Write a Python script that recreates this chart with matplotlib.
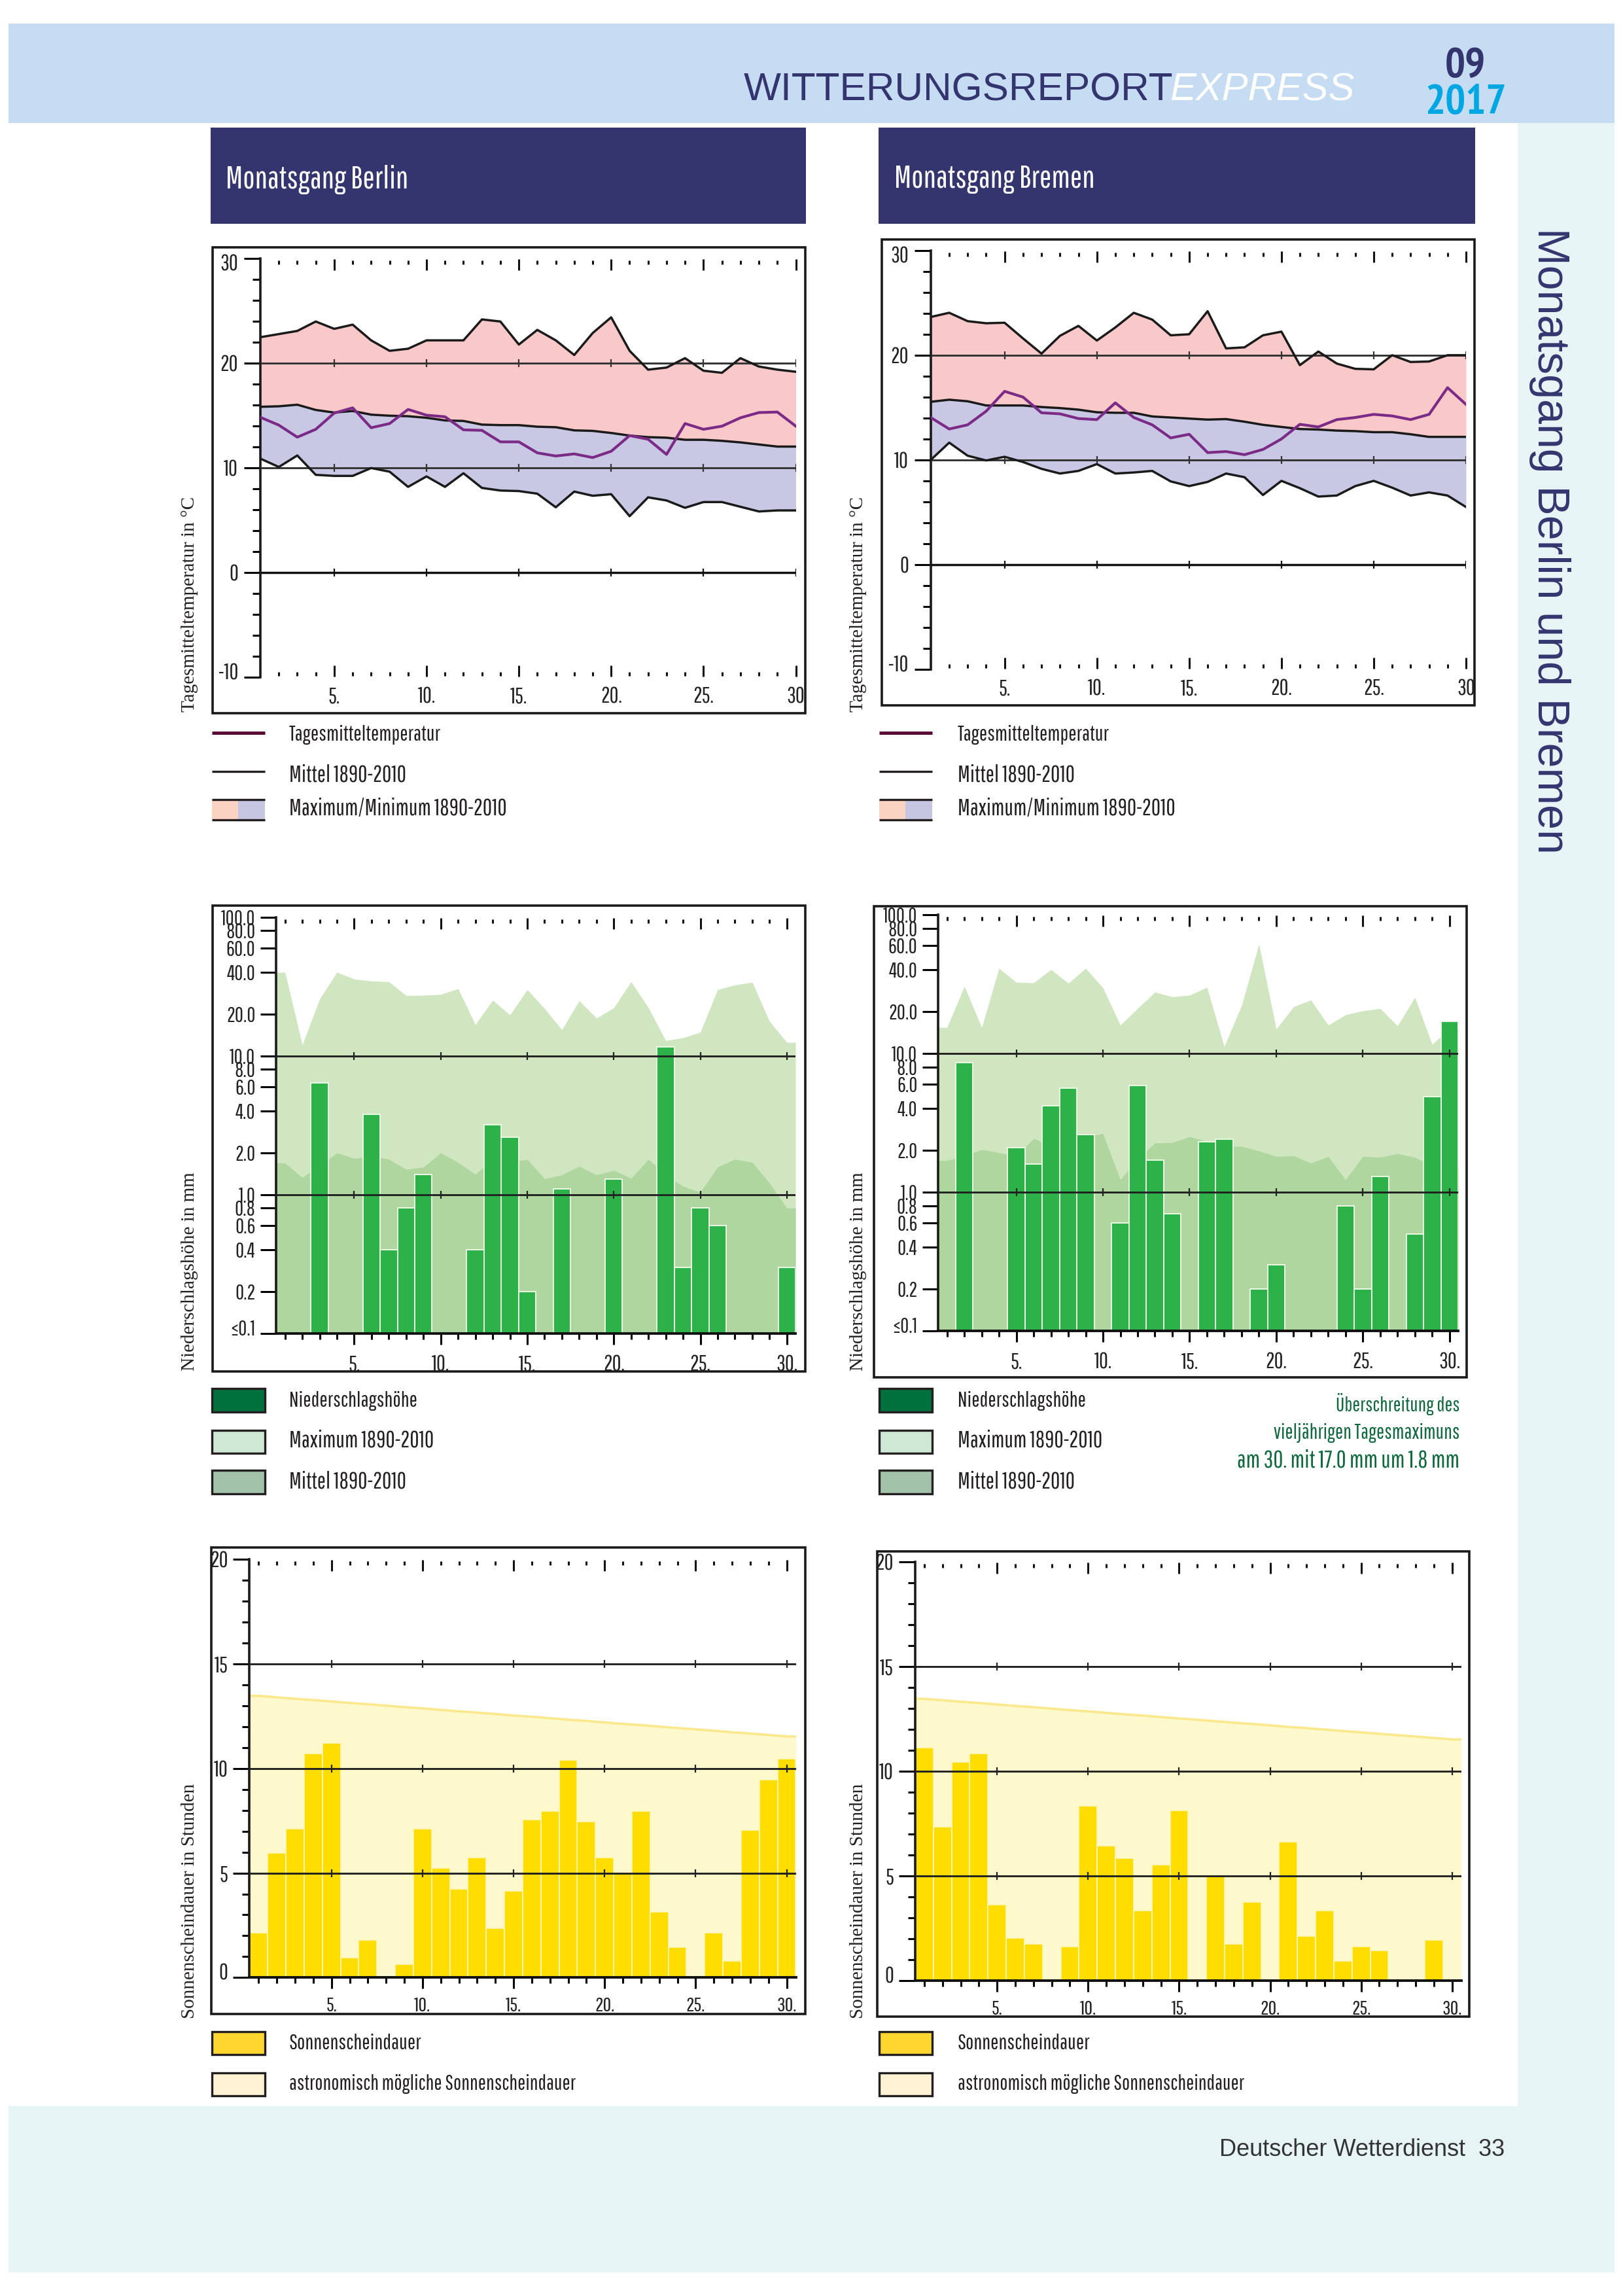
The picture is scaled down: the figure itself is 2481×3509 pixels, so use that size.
import numpy as np
import matplotlib
matplotlib.use("Agg")
import matplotlib.pyplot as plt
from matplotlib.patches import Rectangle
from matplotlib.transforms import ScaledTranslation
from matplotlib.ticker import NullLocator
import logging

logging.getLogger("matplotlib.font_manager").setLevel(logging.ERROR)

# page size in pixels, everything on the page is placed in these
W = 2481
H = 3509

NARROW = ["Pathway Gothic One", "Liberation Sans", "DejaVu Sans"]
BOLDNARROW = ["PT Sans Narrow", "Liberation Sans", "DejaVu Sans"]
SANS = ["Liberation Sans", "DejaVu Sans"]
SERIF = ["Liberation Serif", "DejaVu Serif"]

NAVY = "#34346f"

days = list(range(1, 31))

# Temperatur, Tagesmittel in Grad C
berlinTempMax = [22.5, 22.8, 23.1, 24.0, 23.3, 23.7, 22.2, 21.2, 21.4, 22.2, 22.2, 22.2, 24.2, 24.0, 21.8, 23.2, 22.2, 20.8, 22.9, 24.4, 21.2, 19.4, 19.6, 20.5, 19.3, 19.1, 20.5, 19.7, 19.4, 19.2]
berlinTempMean = [15.85, 15.9, 16.05, 15.55, 15.3, 15.45, 15.1, 15.0, 14.95, 14.8, 14.55, 14.5, 14.15, 14.1, 14.1, 13.95, 13.9, 13.6, 13.55, 13.35, 13.1, 12.95, 12.9, 12.7, 12.7, 12.6, 12.45, 12.25, 12.05, 12.05]
berlinTempMin = [10.9, 10.1, 11.2, 9.35, 9.25, 9.25, 10.0, 9.65, 8.2, 9.2, 8.2, 9.5, 8.1, 7.85, 7.8, 7.55, 6.25, 7.75, 7.35, 7.5, 5.4, 7.2, 6.9, 6.2, 6.75, 6.75, 6.3, 5.85, 5.95, 5.95]
berlinTempDay = [14.85, 14.1, 12.95, 13.7, 15.25, 15.75, 13.85, 14.25, 15.6, 15.05, 14.9, 13.65, 13.6, 12.5, 12.5, 11.45, 11.15, 11.35, 11.0, 11.6, 13.1, 12.75, 11.3, 14.25, 13.7, 14.0, 14.8, 15.3, 15.35, 14.0]

bremenTempMax = [23.65, 24.05, 23.25, 23.05, 23.1, 21.6, 20.15, 21.85, 22.8, 21.4, 22.65, 24.05, 23.4, 21.9, 22.0, 24.2, 20.65, 20.75, 21.9, 22.25, 19.05, 20.35, 19.2, 18.7, 18.65, 20.0, 19.35, 19.4, 20.0, 20.0]
bremenTempMean = [15.55, 15.75, 15.6, 15.2, 15.2, 15.2, 15.05, 14.95, 14.8, 14.55, 14.5, 14.5, 14.15, 14.05, 13.95, 13.85, 13.9, 13.65, 13.35, 13.15, 12.95, 12.9, 12.8, 12.75, 12.65, 12.65, 12.45, 12.2, 12.2, 12.2]
bremenTempMin = [10.0, 11.65, 10.4, 9.95, 10.3, 9.8, 9.15, 8.7, 8.95, 9.6, 8.7, 8.8, 8.95, 7.95, 7.5, 7.9, 8.7, 8.35, 6.65, 8.0, 7.3, 6.5, 6.6, 7.5, 8.0, 7.35, 6.6, 6.9, 6.6, 5.5]
bremenTempDay = [14.05, 12.95, 13.35, 14.65, 16.55, 16.0, 14.5, 14.4, 13.95, 13.85, 15.45, 14.05, 13.35, 12.1, 12.45, 10.7, 10.8, 10.5, 11.0, 12.0, 13.4, 13.15, 13.85, 14.05, 14.35, 14.2, 13.85, 14.35, 16.9, 15.3]

# Niederschlag in mm, 0 heisst kein Balken
berlinRainMax = [40, 12, 25.6, 40, 35.7, 34.6, 34.2, 27.2, 27.3, 27.7, 30.5, 16.8, 25.2, 19.7, 30, 21.9, 15.4, 25, 18.7, 22.2, 34.2, 22.2, 12.9, 13.5, 14.8, 30, 32.4, 33.9, 17.7, 12.5]
berlinRainMean = [1.69, 1.33, 1.62, 2.0, 1.82, 1.9, 1.8, 1.52, 1.58, 2.0, 1.71, 1.4, 1.8, 1.71, 1.8, 1.3, 1.39, 1.6, 1.39, 1.5, 1.31, 1.8, 1.39, 1.15, 1.04, 1.58, 1.8, 1.71, 1.21, 0.8]
berlinRain = [0, 0, 6.4, 0, 0, 3.8, 0.4, 0.8, 1.4, 0, 0, 0.4, 3.2, 2.6, 0.2, 0, 1.1, 0, 0, 1.3, 0, 0, 11.6, 0.3, 0.8, 0.6, 0, 0, 0, 0.3]

bremenRainMax = [15.4, 30.5, 15.4, 41.1, 32.6, 32.3, 40.3, 32.1, 41.1, 29.7, 16, 21.1, 27.7, 25.6, 26.3, 30, 11.2, 22.2, 61.3, 15, 21.7, 24.3, 16, 19, 20.3, 21.1, 15.8, 25.4, 11.6, 15.2]
bremenRainMean = [1.69, 1.83, 2.03, 1.93, 1.81, 2.44, 2.14, 2.14, 2.51, 2.64, 1.23, 1.74, 2.26, 2.28, 2.51, 2.32, 2.14, 2.14, 1.98, 1.81, 1.83, 1.62, 1.81, 1.23, 1.81, 1.78, 1.9, 1.78, 1.56, 1.5]
bremenRain = [0, 8.6, 0, 0, 2.1, 1.6, 4.2, 5.6, 2.6, 0, 0.6, 5.9, 1.7, 0.7, 0, 2.3, 2.4, 0, 0.2, 0.3, 0, 0, 0, 0.8, 0.2, 1.3, 0, 0.5, 4.9, 17.0]

# Sonnenschein in Stunden
astroSun = [13.47, 13.40, 13.33, 13.27, 13.20, 13.13, 13.07, 13.00, 12.93, 12.87, 12.80, 12.73, 12.67, 12.60, 12.53, 12.47, 12.40, 12.33, 12.27, 12.20, 12.13, 12.07, 12.00, 11.93, 11.87, 11.80, 11.73, 11.67, 11.60, 11.53]
berlinSun = [2.15, 5.95, 7.1, 10.7, 11.2, 0.95, 1.8, 0, 0.65, 7.1, 5.25, 4.25, 5.75, 2.35, 4.15, 7.55, 7.95, 10.4, 7.45, 5.75, 5.0, 7.95, 3.15, 1.45, 0, 2.15, 0.8, 7.05, 9.45, 10.45]
bremenSun = [11.15, 7.35, 10.45, 10.85, 3.65, 2.05, 1.75, 0, 1.65, 8.35, 6.45, 5.85, 3.35, 5.55, 8.15, 0, 5.0, 1.75, 3.75, 0, 6.65, 2.15, 3.35, 0.95, 1.65, 1.45, 0, 0, 1.95, 0]

rainTicks = [100, 80, 60, 40, 20, 10, 8, 6, 4, 2, 1, 0.8, 0.6, 0.4, 0.2, 0.1]
rainLabels = ["100.0", "80.0", "60.0", "40.0", "20.0", "10.0", "8.0", "6.0", "4.0", "2.0", "1.0", "0.8", "0.6", "0.4", "0.2", "≤0.1"]

fig = plt.figure(figsize=(W / 100, H / 100), dpi=100, facecolor="white")

# page layer, coordinates are plain pixels from the top left
pg = fig.add_axes([0, 0, 1, 1])
pg.set_xlim(0, W)
pg.set_ylim(H, 0)
pg.axis("off")

TICKSIZE = 24.5
RAINSIZE = 23
SUNXSIZE = 22.5
WORDSIZE = 23.5
YEARSIZE = 25


def px(n):
	return n * 0.72


def box(x0, y0, x1, y1, color, edge="none", lw=0, z=1):
	pg.add_patch(Rectangle((x0, y0), x1 - x0, y1 - y0, facecolor=color, edgecolor=edge, linewidth=lw, zorder=z))


def pageText(x, y, s, size, family=NARROW, color="#231f20", ha="left", va="center", **kw):
	return pg.text(x, y, s, fontsize=size, family=family, color=color, ha=ha, va=va, **kw)


def makeAxes(x0, y0, x1, y1, xlim, ylim, log=False):
	ax = fig.add_axes([x0 / W, 1 - y1 / H, (x1 - x0) / W, (y1 - y0) / H])
	ax.patch.set_visible(False)
	if log:
		ax.set_yscale("log")
	ax.set_xlim(*xlim)
	ax.set_ylim(*ylim)
	for s in ["top", "right", "bottom"]:
		ax.spines[s].set_visible(False)
	ax.spines["left"].set_linewidth(2.6)
	ax.spines["left"].set_color("#1a1a1a")
	return ax


def dayMarks(ax, top=True, bottom=False):
	# kleine Striche oben/unten
	height = ax.get_position().height * H
	xform = ax.get_xaxis_transform()
	for d in days:
		big = d % 5 == 0
		if d == 1 and ax.get_xlim()[0] == 1:
			continue
		if top:
			ax.vlines(d, 1 - (18 if big else 9) / height, 1 - (1 if big else 3) / height, color="#111111", lw=2.2, transform=xform, clip_on=False, zorder=6)
		if bottom:
			ax.vlines(d, (1 if big else 2) / height, (18 if big else 8) / height, color="#111111", lw=2.2, transform=xform, clip_on=False, zorder=6)


def gridMarks(ax, values, color="#333333", lw=2.1):
	height = ax.get_position().height * H
	xform = ax.get_yaxis_transform()
	ax.hlines(values, 0, 1, color=color, lw=lw, transform=xform, zorder=5)
	fives = [d for d in days if d % 5 == 0]
	for v in values:
		yFrac = ax.transAxes.inverted().transform(ax.transData.transform((1, v)))[1]
		ax.vlines(fives, yFrac - 6 / height, yFrac + 6 / height, color=color, lw=1.6, transform=ax.get_xaxis_transform(), zorder=5)


def xLabels(ax, labels, pad, size=TICKSIZE):
	ax.set_xticks([5, 10, 15, 20, 25, 30], labels)
	ax.tick_params(axis="x", which="major", pad=px(pad), labelsize=size)
	for t in ax.get_xticklabels():
		t.set_family(NARROW)
		t.set_color("#222222")


def yFonts(ax):
	for t in ax.get_yticklabels():
		t.set_family(NARROW)
		t.set_color("#222222")


def nudge(label, dy):
	# schiebt eine Achsenbeschriftung um dy Pixel nach oben
	label.set_transform(label.get_transform() + ScaledTranslation(0, dy / 100, fig.dpi_scale_trans))


def tempChart(rect, tmax, tmean, tmin, tday):
	ax = makeAxes(*rect, (1, 30), (-10, 30))
	ax.fill_between(days, tmean, tmax, color="#f9c8c8", lw=0, zorder=1)
	ax.fill_between(days, tmin, tmean, color="#c8c8e4", lw=0, zorder=1)
	gridMarks(ax, [20, 10])
	gridMarks(ax, [0], color="#111111", lw=2.5)
	ax.plot(days, tmax, color="#1a1a1a", lw=2.5, zorder=6)
	ax.plot(days, tmean, color="#1a1a1a", lw=2.5, zorder=6)
	ax.plot(days, tmin, color="#1a1a1a", lw=2.5, zorder=6)
	ax.plot(days, tday, color="#7b2a86", lw=3.0, zorder=7)
	ax.set_yticks([30, 20, 10, 0, -10], ["30", "20", "10", "0", "-10"])
	ax.set_yticks(list(range(-8, 30, 2)), minor=True)
	ax.tick_params(axis="y", which="major", length=px(25), width=2.2, pad=px(9), labelsize=TICKSIZE)
	ax.tick_params(axis="y", which="minor", length=px(12), width=2.2)
	yFonts(ax)
	labs = ax.get_yticklabels()
	nudge(labs[0], -6)
	nudge(labs[-1], 9)
	xLabels(ax, ["5.", "10.", "15.", "20.", "25.", "30"], 14)
	ax.tick_params(axis="x", which="major", length=0)
	dayMarks(ax, top=True, bottom=True)
	return ax


def barAxis(ax):
	ax.spines["bottom"].set_visible(True)
	ax.spines["bottom"].set_linewidth(2.8)
	ax.spines["bottom"].set_color("#111111")
	ax.set_xticks([d for d in days if d % 5 != 0], minor=True)
	ax.tick_params(axis="x", which="minor", length=px(9), width=2.2, direction="out")
	ax.tick_params(axis="x", which="major", length=px(17), width=2.2, direction="out")


def rainChart(rect, rmax, rmean, rain):
	ax = makeAxes(*rect, (0.5, 30.5), (0.1, 100), log=True)
	# die Flaechen laufen bis an die Achsen
	xx = [0.5] + days + [30.5]
	ax.fill_between(xx, 0.1, [rmax[0]] + rmax + [rmax[-1]], color="#cfe6c0", lw=0, zorder=1)
	ax.fill_between(xx, 0.1, [rmean[0]] + rmean + [rmean[-1]], color="#aed69e", lw=0, zorder=1.5)
	dd = [d for d, r in zip(days, rain) if r > 0]
	rr = [r for r in rain if r > 0]
	ax.bar(dd, np.array(rr) - 0.1, bottom=0.1, width=1.0, color="#2db24a", edgecolor="#eef7e6", linewidth=1.4, zorder=2)
	gridMarks(ax, [10, 1], color="#222222")
	ax.minorticks_off()
	ax.set_yticks(rainTicks, rainLabels)
	ax.tick_params(axis="y", which="major", length=px(24), width=2.2, pad=px(8), labelsize=RAINSIZE)
	ax.yaxis.set_minor_locator(NullLocator())
	yFonts(ax)
	nudge(ax.get_yticklabels()[-1], 9)
	xLabels(ax, ["5.", "10.", "15.", "20.", "25.", "30."], 15)
	barAxis(ax)
	dayMarks(ax, top=True)
	return ax


def sunChart(rect, sun):
	ax = makeAxes(*rect, (0.5, 30.5), (0, 20))
	xx = [0.5] + days + [30.5]
	aa = [astroSun[0]] + astroSun + [astroSun[-1]]
	ax.fill_between(xx, 0, aa, color="#fdf9cc", lw=0, zorder=1)
	ax.plot(xx, aa, color="#fbe88c", lw=2.6, zorder=1.5)
	ax.bar(days, sun, width=1.0, color="#ffdd00", edgecolor="#fff6c0", linewidth=1.2, zorder=2)
	gridMarks(ax, [15, 10, 5], color="#222222")
	ax.set_yticks([20, 15, 10, 5, 0], ["20", "15", "10", "5", "0"])
	ax.set_yticks([v for v in range(1, 20) if v % 5 != 0], minor=True)
	ax.tick_params(axis="y", which="major", length=px(25), width=2.2, pad=px(8), labelsize=TICKSIZE)
	ax.tick_params(axis="y", which="minor", length=px(11), width=2.2)
	yFonts(ax)
	nudge(ax.get_yticklabels()[-1], 9)
	xLabels(ax, ["5.", "10.", "15.", "20.", "25.", "30."], 12, size=SUNXSIZE)
	barAxis(ax)
	dayMarks(ax, top=True)
	return ax


def swatch(x0, y0, y1, color):
	box(x0, y0, x0 + 81, y1, color, edge="#231f20", lw=2.4, z=2)


# Hintergrund der Seite
box(13, 36, 2468, 188, "#c6dcf2")
box(2320, 188, 2468, 3219, "#e6f4f5")
box(13, 3219, 2468, 3473, "#e6f4f5")

pageText(1137, 138, "WITTERUNGSREPORT", 43.5, family=SANS, color=NAVY)
pageText(1788, 138, "EXPRESS", 43, family=SANS, color="white", style="italic")
pageText(2240, 102, "09", 47, family=BOLDNARROW, color=NAVY, ha="center", weight="bold")
pageText(2240, 158, "2017", 47, family=BOLDNARROW, color="#00a7e3", ha="center", weight="bold")

pageText(2369, 826, "Monatsgang Berlin und Bremen", 49, family=SANS, color=NAVY, ha="center", rotation=-90)
pageText(1864, 3285, "Deutscher Wetterdienst  33", 26, family=SANS, color="#333333")

# Kopfbalken
box(322, 195, 1232, 342, NAVY)
box(1343, 195, 2255, 342, NAVY)
pageText(345, 274, "Monatsgang Berlin", 35, color="white")
pageText(1367, 274, "Monatsgang Bremen", 35, color="white")

# Rahmen der Diagramme
for x0, y0, x1, y1 in [(324.5, 378, 1230.5, 1090), (1348, 366, 2254, 1078), (324.5, 1384, 1230.5, 2096), (1336, 1385, 2242, 2105), (323, 2365, 1230.5, 3078), (1341, 2371, 2246, 3082)]:
	box(x0, y0, x1, y1, "white", edge="#1a1a1a", lw=2.6, z=1)

tempChart((398, 395.4, 1216.5, 1035.2), berlinTempMax, berlinTempMean, berlinTempMin, berlinTempDay)
tempChart((1422.8, 382.8, 2241, 1023), bremenTempMax, bremenTempMean, bremenTempMin, bremenTempDay)
rainChart((422.4, 1401.5, 1216, 2038), berlinRainMax, berlinRainMean, berlinRain)
rainChart((1434.4, 1398, 2229, 2034), bremenRainMax, bremenRainMean, bremenRain)
sunChart((381.4, 2383, 1216.5, 3022.4), berlinSun)
sunChart((1399, 2387.3, 2233.7, 3027.4), bremenSun)

# Achsentitel, Serifenschrift wie im Original
for xl in [290, 1312]:
	pageText(xl, 923, "Tagesmitteltemperatur in °C", 21, family=SERIF, ha="center", rotation=90)
	pageText(xl, 1943, "Niederschlagshöhe in mm", 21, family=SERIF, ha="center", rotation=90)
	pageText(xl, 2905, "Sonnenscheindauer in Stunden", 21, family=SERIF, ha="center", rotation=90)

# Legenden
for xs, xt in [(324, 442), (1344, 1464)]:
	pg.plot([xs, xs + 81], [1120, 1120], color="#5b0a36", lw=3.6, solid_capstyle="butt", zorder=2)
	pg.plot([xs, xs + 81], [1179, 1179], color="#231f20", lw=2.4, solid_capstyle="butt", zorder=2)
	box(xs, 1222, xs + 40, 1253, "#fbd3c3", z=2)
	box(xs + 40, 1222, xs + 81, 1253, "#c6c6e2", z=2)
	pg.plot([xs, xs + 81], [1222, 1222], color="#231f20", lw=2.4, solid_capstyle="butt", zorder=3)
	pg.plot([xs, xs + 81], [1253, 1253], color="#231f20", lw=2.4, solid_capstyle="butt", zorder=3)
	pageText(xt, 1123, "Tagesmitteltemperatur", WORDSIZE)
	pageText(xt, 1184, "Mittel 1890-2010", YEARSIZE)
	pageText(xt, 1235, "Maximum/Minimum 1890-2010", YEARSIZE)

	swatch(xs, 2122, 2158, "#00703c")
	swatch(xs, 2186, 2221, "#cfe8d5")
	swatch(xs, 2247, 2283, "#a3c2aa")
	pageText(xt, 2141, "Niederschlagshöhe", WORDSIZE)
	pageText(xt, 2201, "Maximum 1890-2010", YEARSIZE)
	pageText(xt, 2264, "Mittel 1890-2010", YEARSIZE)

	swatch(xs, 3105, 3140, "#ffd530")
	swatch(xs, 3168, 3203, "#fff3d4")
	pageText(xt, 3123, "Sonnenscheindauer", WORDSIZE)
	pageText(xt, 3185, "astronomisch mögliche Sonnenscheindauer", 23)

for yy, line, sz in [(2146, "Überschreitung des", 22.5), (2190, "vieljährigen Tagesmaximuns", 23), (2232, "am 30. mit 17.0 mm um 1.8 mm", 26.5)]:
	pageText(2231, yy, line, sz, color="#0f6b3d", ha="right")

fig.savefig("out.png", dpi=100, facecolor="white")
